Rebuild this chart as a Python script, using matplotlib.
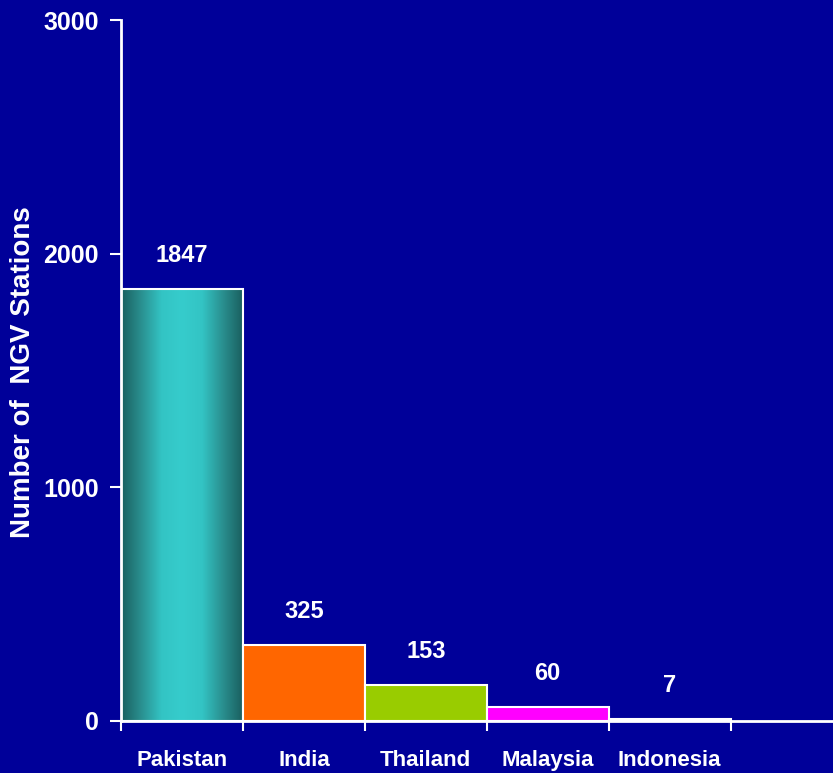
import matplotlib.pyplot as plt
import numpy as np
from matplotlib.colors import LinearSegmentedColormap

countries = ['Pakistan', 'India', 'Thailand', 'Malaysia', 'Indonesia']
stations = [1847, 325, 153, 60, 7]
colors = ['#33cccc', '#ff6600', '#99cc00', '#ff00ff', '#000099']

bg = '#000099'
plt.rcParams['font.family'] = ['Liberation Sans', 'DejaVu Sans']

fig = plt.figure(figsize=(8.33, 7.73), dpi=100, facecolor=bg)
ax = fig.add_axes([0.1453, 0.0673, 0.8547, 0.9067], facecolor=bg)

x = np.arange(len(countries)) + 0.5
bars = ax.bar(x, stations, width=1.0, color=colors, edgecolor='white', linewidth=1.5, zorder=3)

# gradient fill on the first bar
teal = LinearSegmentedColormap.from_list('teal', ['#1a5f5f', '#2a9090', '#33c4c4', '#36cccc', '#33c4c4', '#2a9090', '#1a5f5f'])
b0 = bars[0]
grad = np.linspace(0, 1, 256).reshape(1, -1)
ax.imshow(grad, cmap=teal, aspect='auto', zorder=2.5,
          extent=[b0.get_x(), b0.get_x() + b0.get_width(), 0, b0.get_height()])
b0.set_facecolor('none')

for xi, v in zip(x, stations):
    ax.text(xi, v + 145, str(v), ha='center', va='center', color='white',
            fontsize=17, fontweight='bold')

ax.set_xlim(0, 5.84)
ax.set_ylim(0, 3000)
ax.set_yticks([0, 1000, 2000, 3000])
ax.set_xticks(range(6))
ax.set_xticklabels([])
ax.set_xticks(x, minor=True)
ax.set_xticklabels(countries, minor=True)
ax.tick_params(axis='x', which='major', length=7, width=1.5, color='white', direction='out')
ax.tick_params(axis='x', which='minor', length=0, pad=21, labelsize=16, labelcolor='white')
ax.tick_params(axis='y', length=8, width=1.5, color='white', labelsize=18, labelcolor='white', pad=8)
for lbl in ax.get_yticklabels() + ax.get_xticklabels(minor=True):
    lbl.set_fontweight('bold')

for s in ['top', 'right']:
    ax.spines[s].set_visible(False)
for s in ['left', 'bottom']:
    ax.spines[s].set_color('white')
    ax.spines[s].set_linewidth(2)
    ax.spines[s].set_zorder(4)

fig.text(23 / 833, 1 - 372 / 773, 'Number of  NGV Stations', color='white', fontsize=20,
         fontweight='bold', rotation=90, ha='center', va='center')

fig.savefig('out.png', dpi=100, facecolor=bg)
